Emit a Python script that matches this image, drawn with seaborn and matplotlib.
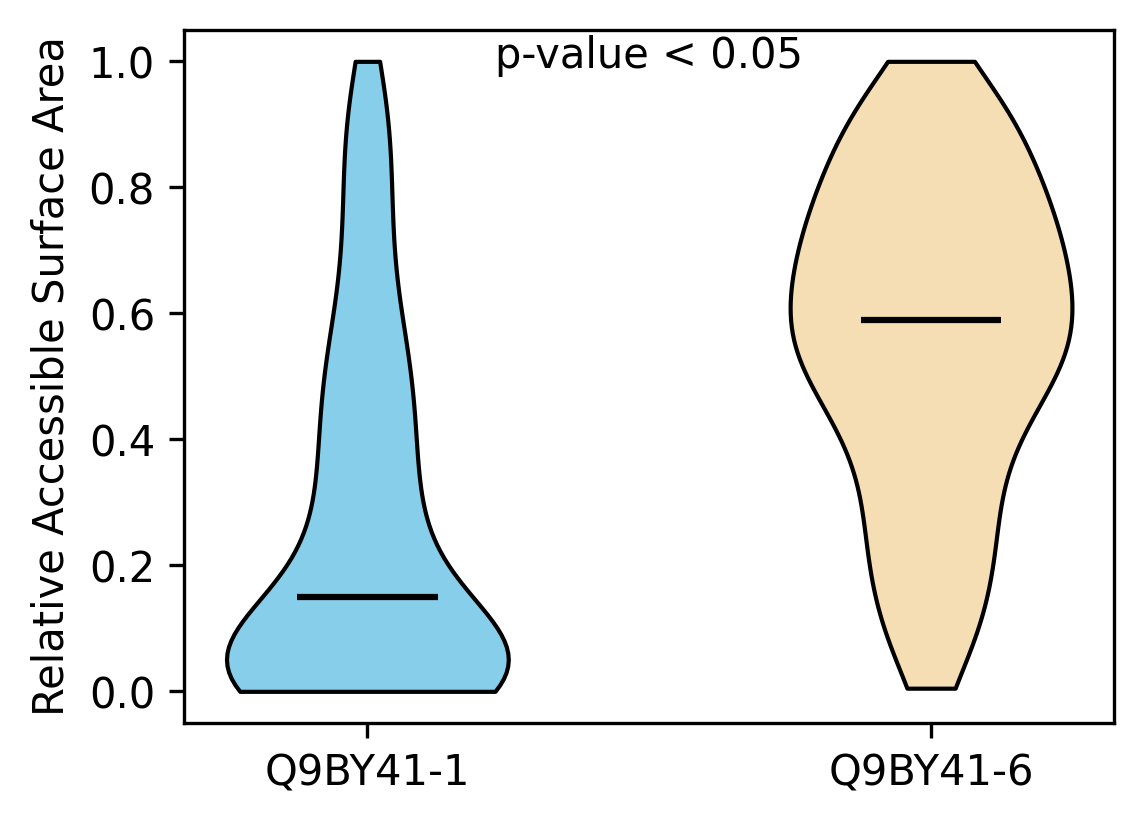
import numpy as np
import pandas as pd
import matplotlib
matplotlib.use("Agg")
import matplotlib.pyplot as plt
import seaborn as sns

# %% Data: RSA values (binned) and number of residues in each bin

isoforms = ["Q9BY41-1", "Q9BY41-6"]
colors = ["skyblue", "wheat"]

rsa_iso1 = [0.00, 0.05, 0.10, 0.15, 0.20, 0.25, 0.30, 0.35, 0.40, 0.45, 0.50,
            0.55, 0.60, 0.65, 0.70, 0.75, 0.80, 0.85, 0.90, 0.95, 1.00]
count_iso1 = [48, 42, 19, 10, 10, 9, 8, 8, 8, 8, 8,
              7, 5, 4, 4, 4, 4, 4, 4, 4, 2]

rsa_iso6 = [0.005, 0.05, 0.10, 0.15, 0.20, 0.25, 0.30, 0.35, 0.40, 0.45, 0.50,
            0.55, 0.59, 0.65, 0.70, 0.75, 0.80, 0.85, 0.90, 0.95, 1.00]
count_iso6 = [2, 4, 6, 6, 7, 7, 7, 7, 8, 11, 14,
              15, 16, 16, 15, 13, 12, 11, 9, 9, 4]

p_text = "p-value < 0.05"

df = pd.DataFrame({
    "isoform": [isoforms[0]] * sum(count_iso1) + [isoforms[1]] * sum(count_iso6),
    "rsa": np.concatenate([np.repeat(rsa_iso1, count_iso1),
                           np.repeat(rsa_iso6, count_iso6)])
})

# %% Violin plot

fig, ax = plt.subplots(figsize=(4, 3))

sns.violinplot(
    data=df,
    x="isoform",
    y="rsa",
    hue="isoform",
    order=isoforms,
    hue_order=isoforms,
    palette=colors,
    saturation=1,
    cut=0,
    inner=None,
    density_norm="width",
    width=0.5,
    linecolor="black",
    linewidth=1,
    legend=False,
    ax=ax
)

# Median lines
medians = df.groupby("isoform")["rsa"].median().reindex(isoforms)
pos = np.arange(len(isoforms))
ax.hlines(medians.values, pos - 0.125, pos + 0.125, color="black", linewidth=1.5)

ax.set_xlim(-0.325, 1.325)
ax.set_ylim(-0.05, 1.05)
ax.set_xlabel("")
ax.set_ylabel("Relative Accessible Surface Area")
ax.text(0.5, 0.99, p_text, ha="center")

fig.savefig("out.png", dpi=300, bbox_inches="tight")
